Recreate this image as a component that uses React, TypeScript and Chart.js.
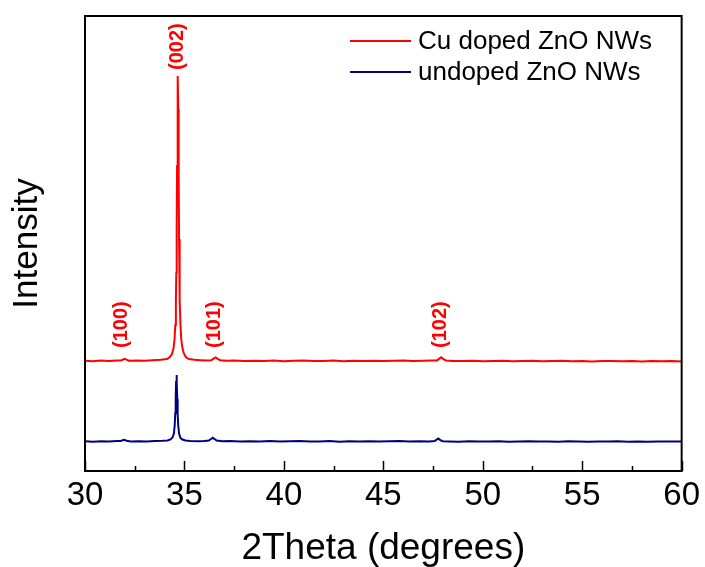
import React, { useEffect, useRef } from 'react';
import { Chart, registerables } from 'chart.js';

Chart.register(...registerables);

// Cu doped ZnO NWs (upper trace)
const cuTheta = [
  30.0, 30.4, 30.8, 31.2, 31.6, 31.8, 31.92, 32.0, 32.08, 32.2, 32.6, 33.0, 33.4, 33.8,
  34.12, 34.27, 34.37, 34.45, 34.5, 34.54, 34.57, 34.59, 34.61, 34.63, 34.65, 34.67,
  34.69, 34.71, 34.73, 34.76, 34.8, 34.84, 34.89, 34.97, 35.07, 35.22,
  35.5, 35.8, 36.1, 36.35, 36.47, 36.57, 36.67, 36.8, 37.1, 37.5, 38.0, 38.5, 39.0, 39.5,
  40.0, 40.5, 41.0, 41.5, 42.0, 42.5, 43.0, 43.5, 44.0, 44.5, 45.0, 45.5, 46.0, 46.5,
  47.0, 47.4, 47.7, 47.82, 47.91, 48.0, 48.15, 48.5, 49.0, 49.5, 50.0, 50.5, 51.0, 51.5,
  52.0, 52.5, 53.0, 53.5, 54.0, 54.5, 55.0, 55.5, 56.0, 56.5, 57.0, 57.5, 58.0, 58.5,
  59.0, 59.5, 60.0,
];
const cuIntensity = [
  110.3, 109.8, 110.4, 110.0, 110.5, 110.4, 111.5, 112.2, 111.4, 110.3, 110.6, 110.2, 110.8, 111.2,
  112, 114, 117, 122.5, 131, 146, 170, 198, 245, 305, 365, 395,
  362, 295, 232, 170, 146, 132, 124, 117.5, 114, 112,
  111.2, 110.8, 110.5, 110.8, 112.3, 113.6, 112.2, 110.8, 110.2, 110.5, 109.9, 110.3, 110.0, 110.4,
  109.8, 110.2, 110.5, 109.9, 110.1, 110.4, 109.8, 110.2, 110.0, 110.3, 109.9, 110.2, 110.4, 110.0,
  110.3, 110.5, 110.6, 112.4, 113.7, 112.1, 110.5, 110.1, 109.9, 110.3, 109.8, 110.1, 110.3, 109.8,
  110.0, 110.2, 109.7, 110.0, 110.2, 109.8, 110.0, 109.6, 109.9, 110.1, 109.7, 109.9, 109.6, 110.0,
  109.7, 109.9, 109.6,
];

// undoped ZnO NWs (lower trace)
const undopedTheta = [
  30.0, 30.4, 30.8, 31.2, 31.6, 31.8, 31.95, 32.1, 32.3, 32.7, 33.1, 33.5, 33.9,
  34.15, 34.3, 34.4, 34.47, 34.51, 34.54, 34.56, 34.58, 34.6, 34.62, 34.64, 34.66,
  34.69, 34.73, 34.8, 34.9, 35.05,
  35.3, 35.7, 36.0, 36.22, 36.34, 36.42, 36.5, 36.62, 36.9, 37.3, 37.8, 38.3, 38.8, 39.3,
  39.8, 40.3, 40.8, 41.3, 41.8, 42.3, 42.8, 43.3, 43.8, 44.3, 44.8, 45.3, 45.8, 46.3,
  46.8, 47.3, 47.58, 47.68, 47.76, 47.85, 47.98, 48.3, 48.8, 49.3, 49.8, 50.3, 50.8, 51.3,
  51.8, 52.3, 52.8, 53.3, 53.8, 54.3, 54.8, 55.3, 55.8, 56.3, 56.8, 57.3, 57.8, 58.3,
  58.8, 59.3, 60.0,
];
const undopedIntensity = [
  29.7, 29.3, 29.8, 29.5, 29.9, 30.0, 31.2, 30.3, 29.6, 29.8, 29.5, 29.9, 30.2,
  30.5, 31.5, 33.5, 37.5, 45.5, 58, 73, 89, 96, 89, 72, 56,
  45, 37.5, 33, 31.5, 30.5,
  30.0, 29.8, 29.9, 30.4, 32.0, 33.2, 32.2, 30.4, 29.7, 29.9, 29.4, 29.8, 29.5, 29.9,
  29.4, 29.7, 29.9, 29.4, 29.6, 29.9, 29.3, 29.7, 29.5, 29.8, 29.4, 29.7, 29.9, 29.5,
  29.8, 29.6, 30.0, 31.4, 32.6, 31.2, 29.8, 29.6, 29.3, 29.7, 29.4, 29.6, 29.8, 29.3,
  29.6, 29.8, 29.4, 29.6, 29.3, 29.7, 29.5, 29.2, 29.6, 29.4, 29.7, 29.3, 29.5, 29.2,
  29.6, 29.4, 29.5,
];

const seriesLabels = ['Cu doped ZnO NWs', 'undoped ZnO NWs'];
const seriesColors = ['#ff0000', '#000080'];

const majorTicks = [30, 35, 40, 45, 50, 55, 60];
const minorTicks = [32.5, 37.5, 42.5, 47.5, 52.5, 57.5];

const peakLabels = ['(100)', '(002)', '(101)', '(102)'];
const peakLabelTheta = [31.84, 34.67, 36.52, 47.86];
const peakLabelIntensity = [123, 401, 123, 123];

const FONT = "'Liberation Sans', Arial, Helvetica, sans-serif";

export default function App() {
  const ref = useRef<HTMLCanvasElement>(null);

  useEffect(() => {
    if (!ref.current) return;

    const framePlugin = {
      id: 'frameAndDecor',
      afterDraw(chart: any) {
        const { ctx, chartArea } = chart;
        const xs = chart.scales.x;
        const ys = chart.scales.y;
        ctx.save();
        // frame
        ctx.strokeStyle = '#000';
        ctx.lineWidth = 2;
        ctx.strokeRect(chartArea.left, chartArea.top, chartArea.right - chartArea.left, chartArea.bottom - chartArea.top);
        // inward ticks on bottom axis
        ctx.lineWidth = 1.5;
        ctx.beginPath();
        majorTicks.forEach((v) => {
          const px = Math.round(xs.getPixelForValue(v)) + 0.5;
          ctx.moveTo(px, chartArea.bottom);
          ctx.lineTo(px, chartArea.bottom - 10);
        });
        minorTicks.forEach((v) => {
          const px = Math.round(xs.getPixelForValue(v)) + 0.5;
          ctx.moveTo(px, chartArea.bottom);
          ctx.lineTo(px, chartArea.bottom - 5);
        });
        ctx.stroke();

        // peak labels
        ctx.fillStyle = '#ff0000';
        ctx.font = `bold 20px ${FONT}`;
        ctx.textAlign = 'left';
        ctx.textBaseline = 'middle';
        peakLabels.forEach((t, i) => {
          const px = xs.getPixelForValue(peakLabelTheta[i]);
          const py = ys.getPixelForValue(peakLabelIntensity[i]);
          ctx.save();
          ctx.translate(px, py);
          ctx.rotate(-Math.PI / 2);
          ctx.fillText(t, 0, 0);
          ctx.restore();
        });

        // legend
        ctx.font = `26px ${FONT}`;
        ctx.textBaseline = 'middle';
        ctx.textAlign = 'left';
        chart.data.datasets.forEach((ds: any, i: number) => {
          const y = 41 + i * 31;
          ctx.strokeStyle = ds.borderColor;
          ctx.lineWidth = 2;
          ctx.beginPath();
          ctx.moveTo(350, y);
          ctx.lineTo(411, y);
          ctx.stroke();
          ctx.fillStyle = '#000';
          ctx.fillText(ds.label, 418, y + 1);
        });
        ctx.restore();
      },
    };

    const chart = new Chart(ref.current, {
      type: 'line',
      data: {
        datasets: [
          {
            label: seriesLabels[0],
            data: cuTheta.map((x, i) => ({ x, y: cuIntensity[i] })),
            borderColor: seriesColors[0],
            backgroundColor: seriesColors[0],
            borderWidth: 2,
            pointRadius: 0,
            tension: 0,
          },
          {
            label: seriesLabels[1],
            data: undopedTheta.map((x, i) => ({ x, y: undopedIntensity[i] })),
            borderColor: seriesColors[1],
            backgroundColor: seriesColors[1],
            borderWidth: 2,
            pointRadius: 0,
            tension: 0,
          },
        ],
      },
      options: {
        animation: false,
        responsive: false,
        maintainAspectRatio: false,
        layout: { padding: { top: 16, right: 22, left: 0, bottom: 0 } },
        plugins: { legend: { display: false }, tooltip: { enabled: false } },
        scales: {
          x: {
            type: 'linear',
            min: 30,
            max: 60,
            ticks: {
              stepSize: 5,
              color: '#000',
              padding: 5,
              font: { size: 33, family: FONT, lineHeight: 1.2 },
            },
            grid: { display: false, drawTicks: false },
            border: { display: false },
            title: {
              display: true,
              text: '2Theta (degrees)',
              color: '#000',
              font: { size: 37, family: FONT, lineHeight: 1.0 },
              padding: { top: 0, bottom: 0 },
            },
            afterFit: (s: any) => {
              s.height = 96;
            },
          },
          y: {
            type: 'linear',
            min: 0,
            max: 455,
            ticks: { display: false },
            grid: { display: false, drawTicks: false },
            border: { display: false },
            title: {
              display: true,
              text: 'Intensity',
              color: '#000',
              font: { size: 35, family: FONT, lineHeight: 1.0 },
              padding: { top: 10, bottom: 0 },
            },
            afterFit: (s: any) => {
              s.width = 85;
            },
          },
        },
      },
      plugins: [framePlugin],
    } as any);

    return () => chart.destroy();
  }, []);

  return (
    <div style={{ position: 'fixed', left: 0, top: 0, width: 705, height: 567, background: '#fff' }}>
      <canvas ref={ref} width={705} height={567} style={{ width: 705, height: 567, display: 'block' }} />
    </div>
  );
}
